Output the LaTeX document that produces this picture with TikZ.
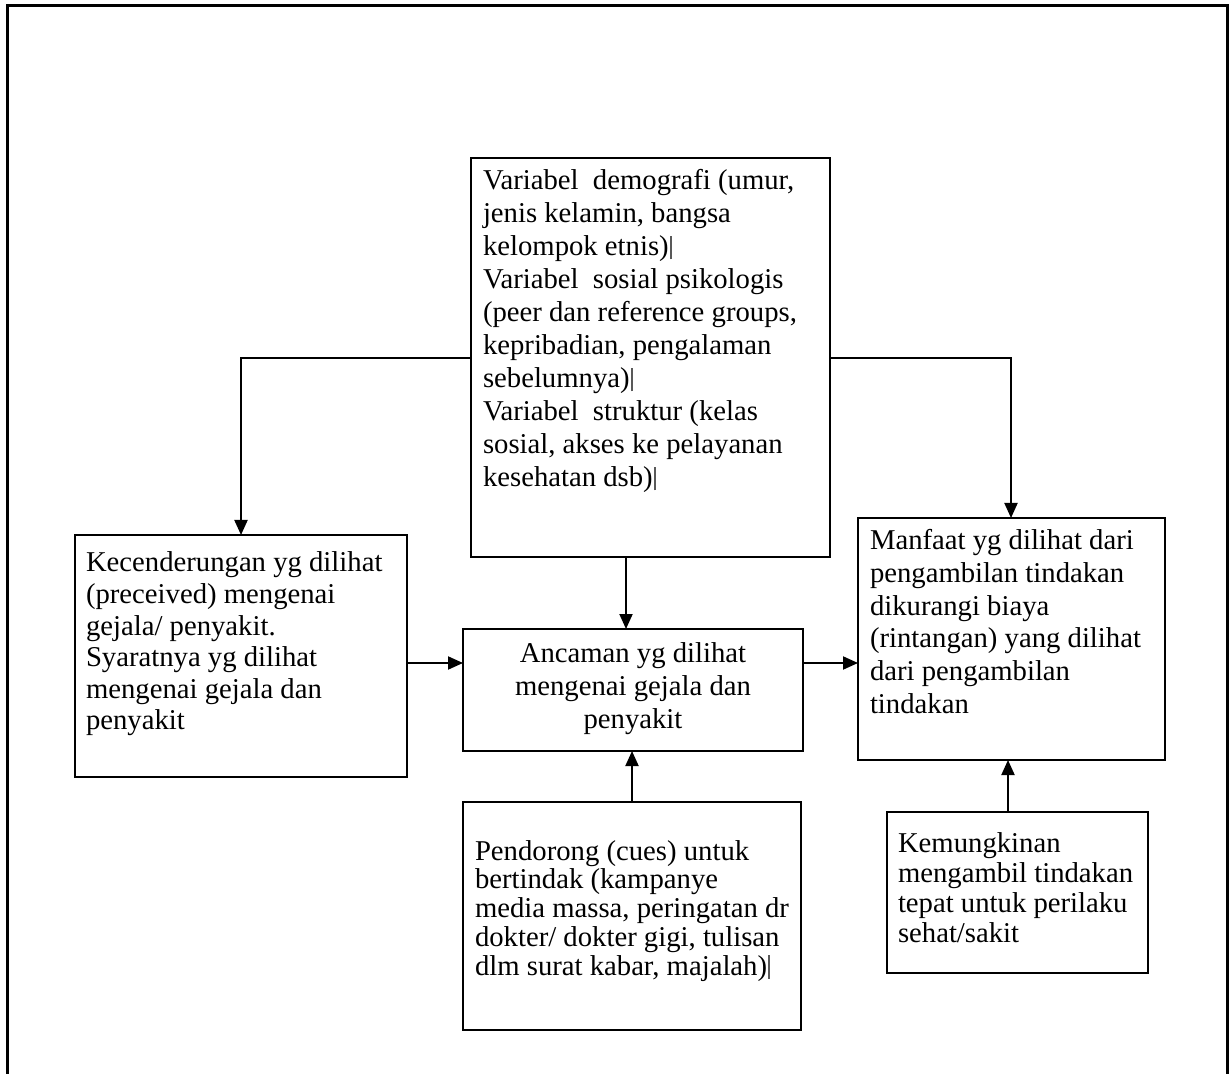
\documentclass[tikz,border=0pt]{standalone}
\usepackage{fontspec}
\setmainfont{Liberation Serif}
\usetikzlibrary{arrows.meta}
\newcommand{\pmk}{\kern0.03em\textcolor{black!65}{\rule[-0.12em]{0.07em}{0.82em}}}
\newcommand{\bfont}[1]{\fontsize{14.35pt}{#1}\selectfont}
\tikzset{
  box/.style={draw, line width=1pt, anchor=north west, inner sep=0pt, outer sep=0pt},
  txt/.style={anchor=base west, inner sep=0pt, outer sep=0pt},
  ctxt/.style={anchor=base, inner sep=0pt, outer sep=0pt},
  arr/.style={line width=1pt, -{Triangle[length=7.5pt,width=6.5pt]}},
  frame/.style={line width=1.5pt}
}
\begin{document}
\begin{tikzpicture}[x=0.5pt,y=-0.5pt]
\useasboundingbox (0,0) rectangle (1231,1074);
\clip (0,0) rectangle (1231,1074);
\draw[frame] (7,1100) -- (7,6) -- (1227,6) -- (1227,1100);

% boxes
\node[box, minimum width=179.5pt, minimum height=199.5pt] (top) at (471,158) {};
\node[box, minimum width=166pt, minimum height=121pt] (left) at (75,535) {};
\node[box, line width=1.4pt, minimum width=170pt, minimum height=61pt] (mid) at (463,629) {};
\node[box, minimum width=153.5pt, minimum height=121pt] (right) at (858,518) {};
\node[box, minimum width=169pt, minimum height=114pt] (bot) at (463,802) {};
\node[box, minimum width=130.5pt, minimum height=80.5pt] (kem) at (887,812) {};

% texts
\node[txt] (ttop) at (483,190) {\parbox[t]{220pt}{\bfont{16.5pt}\raggedright
Variabel\ \ demografi (umur,\\
jenis kelamin, bangsa\\
kelompok etnis)\pmk\\
Variabel\ \ sosial psikologis\\
(peer dan reference groups,\\
kepribadian, pengalaman\\
sebelumnya)\pmk\\
Variabel\ \ struktur (kelas\\
sosial, akses ke pelayanan\\
kesehatan dsb)\pmk}};

\node[txt] (tleft) at (86,572) {\parbox[t]{220pt}{\bfont{15.8pt}\raggedright
Kecenderungan yg dilihat\\
(preceived) mengenai\\
gejala/ penyakit.\\
Syaratnya yg dilihat\\
mengenai gejala dan\\
penyakit}};

\node[ctxt] (tmid) at (633,662) {\parbox[t]{200pt}{\bfont{16.6pt}\centering
Ancaman yg dilihat\\
mengenai gejala dan\\
penyakit}};

\node[txt] (tright) at (870,550) {\parbox[t]{220pt}{\bfont{16.3pt}\raggedright
Manfaat yg dilihat dari\\
pengambilan tindakan\\
dikurangi biaya\\
(rintangan) yang dilihat\\
dari pengambilan\\
tindakan}};

\node[txt] (tbot) at (475,860) {\parbox[t]{220pt}{\bfont{14.4pt}\raggedright
Pendorong (cues) untuk\\
bertindak (kampanye\\
media massa, peringatan dr\\
dokter/ dokter gigi, tulisan\\
dlm surat kabar, majalah)\pmk}};

\node[txt] (tkem) at (898,852) {\parbox[t]{220pt}{\bfont{15pt}\raggedright
Kemungkinan\\
mengambil tindakan\\
tepat untuk perilaku\\
sehat/sakit}};

% connectors
\coordinate (bendL) at (241,358);
\coordinate (bendR) at (1011,358);
\coordinate (xTM) at (626,0);
\coordinate (yRow) at (0,663);
\coordinate (xBM) at (632,0);
\coordinate (xKR) at (1008,0);

\draw[arr] (top.west |- bendL) -- (bendL) -- (bendL |- left.north);
\draw[arr] (top.east |- bendR) -- (bendR) -- (bendR |- right.north);
\draw[arr] (xTM |- top.south) -- (xTM |- mid.north);
\draw[arr] (left.east |- yRow) -- (mid.west |- yRow);
\draw[arr] (mid.east |- yRow) -- (right.west |- yRow);
\draw[arr] (xBM |- bot.north) -- (xBM |- mid.south);
\draw[arr] (xKR |- kem.north) -- (xKR |- right.south);
\end{tikzpicture}
\end{document}
